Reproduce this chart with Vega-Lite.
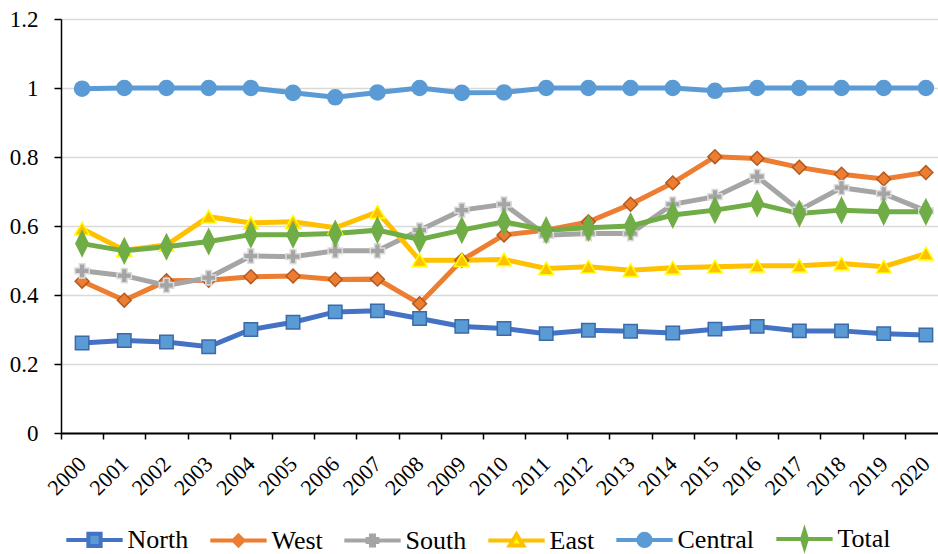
{
  "$schema": "https://vega.github.io/schema/vega-lite/v6.json",
  "autosize": {"type": "none"},
  "width": 877,
  "height": 414,
  "padding": {"left": 61, "top": 19, "right": 0, "bottom": 121},
  "background": "white",
  "config": {"font": "Liberation Serif", "view": {"stroke": null},
    "axis": {"labelFont": "Liberation Serif"}, "legend": {"labelFont": "Liberation Serif"}},
  "data": {"values": [
    {"year":"2000","region":"North","value":0.261},{"year":"2001","region":"North","value":0.268},{"year":"2002","region":"North","value":0.264},{"year":"2003","region":"North","value":0.250},{"year":"2004","region":"North","value":0.300},{"year":"2005","region":"North","value":0.321},{"year":"2006","region":"North","value":0.351},{"year":"2007","region":"North","value":0.354},{"year":"2008","region":"North","value":0.332},{"year":"2009","region":"North","value":0.309},{"year":"2010","region":"North","value":0.303},{"year":"2011","region":"North","value":0.288},{"year":"2012","region":"North","value":0.298},{"year":"2013","region":"North","value":0.295},{"year":"2014","region":"North","value":0.290},{"year":"2015","region":"North","value":0.301},{"year":"2016","region":"North","value":0.309},{"year":"2017","region":"North","value":0.296},{"year":"2018","region":"North","value":0.296},{"year":"2019","region":"North","value":0.288},{"year":"2020","region":"North","value":0.284},
    {"year":"2000","region":"West","value":0.440},{"year":"2001","region":"West","value":0.385},{"year":"2002","region":"West","value":0.441},{"year":"2003","region":"West","value":0.443},{"year":"2004","region":"West","value":0.453},{"year":"2005","region":"West","value":0.455},{"year":"2006","region":"West","value":0.445},{"year":"2007","region":"West","value":0.446},{"year":"2008","region":"West","value":0.375},{"year":"2009","region":"West","value":0.501},{"year":"2010","region":"West","value":0.574},{"year":"2011","region":"West","value":0.588},{"year":"2012","region":"West","value":0.612},{"year":"2013","region":"West","value":0.663},{"year":"2014","region":"West","value":0.725},{"year":"2015","region":"West","value":0.801},{"year":"2016","region":"West","value":0.796},{"year":"2017","region":"West","value":0.770},{"year":"2018","region":"West","value":0.750},{"year":"2019","region":"West","value":0.736},{"year":"2020","region":"West","value":0.755},
    {"year":"2000","region":"South","value":0.470},{"year":"2001","region":"South","value":0.456},{"year":"2002","region":"South","value":0.428},{"year":"2003","region":"South","value":0.450},{"year":"2004","region":"South","value":0.513},{"year":"2005","region":"South","value":0.511},{"year":"2006","region":"South","value":0.528},{"year":"2007","region":"South","value":0.528},{"year":"2008","region":"South","value":0.588},{"year":"2009","region":"South","value":0.646},{"year":"2010","region":"South","value":0.663},{"year":"2011","region":"South","value":0.573},{"year":"2012","region":"South","value":0.578},{"year":"2013","region":"South","value":0.578},{"year":"2014","region":"South","value":0.663},{"year":"2015","region":"South","value":0.685},{"year":"2016","region":"South","value":0.743},{"year":"2017","region":"South","value":0.646},{"year":"2018","region":"South","value":0.711},{"year":"2019","region":"South","value":0.694},{"year":"2020","region":"South","value":0.644},
    {"year":"2000","region":"East","value":0.592},{"year":"2001","region":"East","value":0.530},{"year":"2002","region":"East","value":0.545},{"year":"2003","region":"East","value":0.627},{"year":"2004","region":"East","value":0.609},{"year":"2005","region":"East","value":0.612},{"year":"2006","region":"East","value":0.595},{"year":"2007","region":"East","value":0.641},{"year":"2008","region":"East","value":0.501},{"year":"2009","region":"East","value":0.501},{"year":"2010","region":"East","value":0.503},{"year":"2011","region":"East","value":0.477},{"year":"2012","region":"East","value":0.482},{"year":"2013","region":"East","value":0.472},{"year":"2014","region":"East","value":0.479},{"year":"2015","region":"East","value":0.482},{"year":"2016","region":"East","value":0.485},{"year":"2017","region":"East","value":0.485},{"year":"2018","region":"East","value":0.491},{"year":"2019","region":"East","value":0.482},{"year":"2020","region":"East","value":0.520},
    {"year":"2000","region":"Central","value":0.998},{"year":"2001","region":"Central","value":1.0},{"year":"2002","region":"Central","value":1.0},{"year":"2003","region":"Central","value":1.0},{"year":"2004","region":"Central","value":1.0},{"year":"2005","region":"Central","value":0.986},{"year":"2006","region":"Central","value":0.973},{"year":"2007","region":"Central","value":0.987},{"year":"2008","region":"Central","value":1.0},{"year":"2009","region":"Central","value":0.986},{"year":"2010","region":"Central","value":0.987},{"year":"2011","region":"Central","value":1.0},{"year":"2012","region":"Central","value":1.0},{"year":"2013","region":"Central","value":1.0},{"year":"2014","region":"Central","value":1.0},{"year":"2015","region":"Central","value":0.992},{"year":"2016","region":"Central","value":1.0},{"year":"2017","region":"Central","value":1.0},{"year":"2018","region":"Central","value":1.0},{"year":"2019","region":"Central","value":1.0},{"year":"2020","region":"Central","value":1.0},
    {"year":"2000","region":"Total","value":0.549},{"year":"2001","region":"Total","value":0.528},{"year":"2002","region":"Total","value":0.540},{"year":"2003","region":"Total","value":0.555},{"year":"2004","region":"Total","value":0.575},{"year":"2005","region":"Total","value":0.575},{"year":"2006","region":"Total","value":0.578},{"year":"2007","region":"Total","value":0.588},{"year":"2008","region":"Total","value":0.561},{"year":"2009","region":"Total","value":0.588},{"year":"2010","region":"Total","value":0.612},{"year":"2011","region":"Total","value":0.588},{"year":"2012","region":"Total","value":0.595},{"year":"2013","region":"Total","value":0.600},{"year":"2014","region":"Total","value":0.632},{"year":"2015","region":"Total","value":0.646},{"year":"2016","region":"Total","value":0.665},{"year":"2017","region":"Total","value":0.636},{"year":"2018","region":"Total","value":0.646},{"year":"2019","region":"Total","value":0.641},{"year":"2020","region":"Total","value":0.641}
  ]},
  "encoding": {
    "x": {"field": "year", "type": "ordinal", "sort": null,
      "scale": {"type": "band", "range": [0, 886], "paddingInner": 0, "paddingOuter": 0},
      "axis": {"title": null, "labelAngle": -45, "labelAlign": "right", "labelBaseline": "middle",
        "labelFont": "Liberation Serif", "labelFontSize": 22, "labelColor": "black", "labelPadding": 21, "tickBand": "extent",
        "tickSize": 6, "tickColor": "black", "tickWidth": 1.5, "domainColor": "black", "domainWidth": 2,
        "grid": false}},
    "y": {"field": "value", "type": "quantitative",
      "scale": {"domain": [0, 1.2], "nice": false, "zero": true},
      "axis": {"title": null, "values": [0, 0.2, 0.4, 0.6, 0.8, 1.0, 1.2], "format": "~g",
        "labelFont": "Liberation Serif", "labelFontSize": 23, "labelColor": "black", "labelPadding": 16, "tickSize": 7,
        "tickColor": "black", "tickWidth": 1.5, "domainColor": "black", "domainWidth": 1.5,
        "grid": true, "gridColor": "#D9D9D9", "gridWidth": 1.5}}
  },
  "resolve": {"scale": {"shape": "independent", "fill": "independent", "stroke": "independent", "size": "independent"}},
  "layer": [
    {
      "mark": {"type": "line", "strokeWidth": 5},
      "encoding": {
        "color": {"field": "region", "type": "nominal", "legend": null,
          "scale": {"domain": ["North", "West", "South", "East", "Central", "Total"],
            "range": ["#4472C4", "#ED7D31", "#A5A5A5", "#FFC000", "#5B9BD5", "#70AD47"]}}
      }
    },
    {
      "mark": {"type": "point", "filled": true, "opacity": 1, "strokeWidth": 1.5},
      "encoding": {
        "fill": {"field": "region", "type": "nominal", "legend": null,
          "scale": {"domain": ["North", "West", "South", "East", "Central", "Total"],
            "range": ["#5B9BD5", "#ED7D31", "#A5A5A5", "#FFC000", "#5B9BD5", "#70AD47"]}},
        "stroke": {"field": "region", "type": "nominal", "legend": null,
          "scale": {"domain": ["North", "West", "South", "East", "Central", "Total"],
            "range": ["#3A6BA8", "#B35A20", "#DCDCDC", "#FFFF00", "#5B9BD5", "#70AD47"]}},
        "shape": {"field": "region", "type": "nominal", "legend": null,
          "scale": {"domain": ["North", "West", "South", "East", "Central", "Total"],
            "range": ["square", "diamond", "cross", "triangle-up", "circle", "M0,-1.6L0.8,0L0,1.6L-0.8,0Z"]}},
        "size": {"field": "region", "type": "nominal", "legend": null,
          "scale": {"domain": ["North", "West", "South", "East", "Central", "Total"],
            "range": [180, 240, 280, 300, 290, 270]}}
      }
    },
    {
      "transform": [{"filter": {"field": "value", "gt": 5}}],
      "mark": {"type": "point", "filled": true, "opacity": 1, "strokeWidth": 4},
      "encoding": {
        "shape": {"field": "region", "type": "nominal",
          "scale": {"domain": ["North", "West", "South", "East", "Central", "Total"],
            "range": [
              "M-4.6,0L-1,0M1,0L4.6,0M-1,-1H1V1H-1Z",
              "M-4.6,0L-0.8,0M0.8,0L4.6,0M0,-0.8L0.8,0L0,0.8L-0.8,0Z",
              "M-4.6,0L-0.8,0M0.8,0L4.6,0M-0.8,-0.25H-0.25V-0.8H0.25V-0.25H0.8V0.25H0.25V0.8H-0.25V0.25H-0.8Z",
              "M-4.6,0L-0.7,0M0.7,0L4.6,0M0,-1L1.1,0.8L-1.1,0.8Z",
              "M-4.6,0L-1,0M1,0L4.6,0M1,0A1,1,0,1,1,-1,0A1,1,0,1,1,1,0Z",
              "M-4.6,0L-0.4,0M0.4,0L4.6,0M0,-1.3L0.4,0L0,1.3L-0.4,0Z"]},
          "legend": {"orient": "none", "legendX": 5, "legendY": 507, "direction": "horizontal",
            "title": null, "labelFont": "Liberation Serif", "labelFontSize": 26, "labelColor": "black",
            "symbolSize": 150, "symbolStrokeWidth": 4, "symbolOffset": 15.5, "labelOffset": 20,
            "columnPadding": 13, "symbolOpacity": 1}},
        "fill": {"field": "region", "type": "nominal",
          "scale": {"domain": ["North", "West", "South", "East", "Central", "Total"],
            "range": ["#5B9BD5", "#ED7D31", "#BFBFBF", "#FFFF00", "#5B9BD5", "#70AD47"]},
          "legend": {"orient": "none", "legendX": 5, "legendY": 507, "direction": "horizontal",
            "title": null, "labelFont": "Liberation Serif", "labelFontSize": 26, "labelColor": "black",
            "symbolSize": 150, "symbolStrokeWidth": 4, "symbolOffset": 15.5, "labelOffset": 20,
            "columnPadding": 13, "symbolOpacity": 1}},
        "stroke": {"field": "region", "type": "nominal",
          "scale": {"domain": ["North", "West", "South", "East", "Central", "Total"],
            "range": ["#4472C4", "#ED7D31", "#A5A5A5", "#FFC000", "#5B9BD5", "#70AD47"]},
          "legend": {"orient": "none", "legendX": 5, "legendY": 507, "direction": "horizontal",
            "title": null, "labelFont": "Liberation Serif", "labelFontSize": 26, "labelColor": "black",
            "symbolSize": 150, "symbolStrokeWidth": 4, "symbolOffset": 15.5, "labelOffset": 20,
            "columnPadding": 13, "symbolOpacity": 1}}
      }
    }
  ]
}
